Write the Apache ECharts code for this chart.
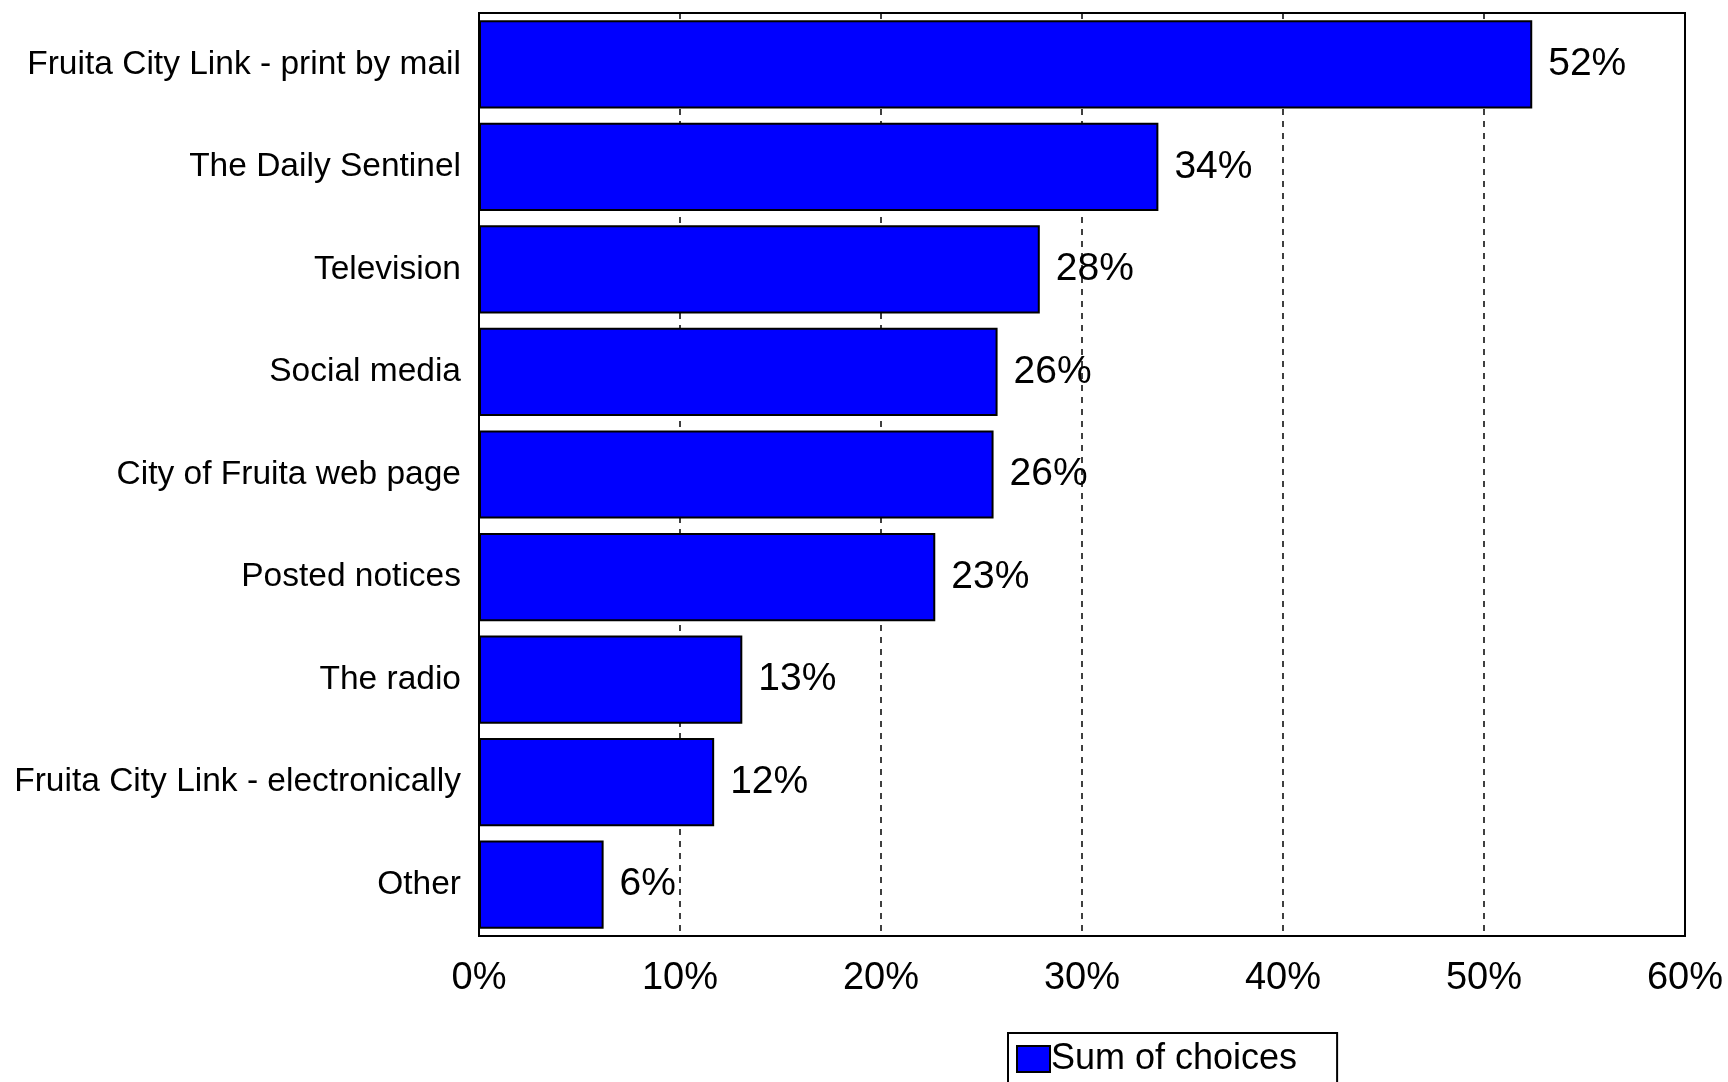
<!DOCTYPE html>
<html>
<head>
<meta charset="utf-8">
<script src="https://cdn.jsdelivr.net/npm/echarts@6/dist/echarts.min.js"></script>
<style>
html,body{margin:0;padding:0;background:#fff;}
#chart{width:1728px;height:1082px;}
</style>
</head>
<body>
<div id="chart"></div>
<script>
const categories = [
  "Fruita City Link - print by mail",
  "The Daily Sentinel",
  "Television",
  "Social media",
  "City of Fruita web page",
  "Posted notices",
  "The radio",
  "Fruita City Link - electronically",
  "Other"
];
const values = [52.4, 33.8, 27.9, 25.8, 25.6, 22.7, 13.1, 11.7, 6.2];
const valueLabels = ["52%", "34%", "28%", "26%", "26%", "23%", "13%", "12%", "6%"];
const seriesName = "Sum of choices";

const chart = echarts.init(document.getElementById('chart'), null, {renderer: 'canvas'});
chart.setOption({
  backgroundColor: '#ffffff',
  animation: false,
  grid: {
    left: 479, right: 43, top: 13, bottom: 146,
    show: true, borderColor: '#000', borderWidth: 2, backgroundColor: 'transparent'
  },
  legend: {
    data: [seriesName],
    left: 1008, top: 1033,
    orient: 'horizontal',
    icon: 'rect',
    itemWidth: 33, itemHeight: 26, itemGap: 0,
    padding: [8, 40, 30, 8],
    borderColor: '#000', borderWidth: 2,
    textStyle: {fontFamily: 'Liberation Sans', fontSize: 36, color: '#000', padding: [0,0,0,-4]}
  },
  xAxis: {
    type: 'value',
    min: 0, max: 60, interval: 10,
    axisLine: {show: true, lineStyle: {color: '#000', width: 2}},
    axisTick: {show: false},
    splitLine: {show: true, lineStyle: {color: '#000', type: [6, 6], width: 1.5}},
    axisLabel: {
      fontFamily: 'Liberation Sans Narrow, Liberation Sans', fontSize: 38, color: '#000', margin: 24,
      formatter: v => v + '%'
    }
  },
  yAxis: {
    type: 'category',
    data: categories,
    inverse: true,
    axisLine: {show: true, lineStyle: {color: '#000', width: 2}},
    axisTick: {show: false},
    axisLabel: {fontFamily: 'Liberation Sans', fontSize: 33.5, color: '#000', margin: 18}
  },
  series: [{
    name: seriesName,
    type: 'bar',
    data: values,
    barCategoryGap: '14%',
    itemStyle: {color: '#0000ff', borderColor: '#000', borderWidth: 2},
    label: {
      show: true, position: 'right', distance: 16,
      fontFamily: 'Liberation Sans', fontSize: 39, color: '#000',
      formatter: p => valueLabels[p.dataIndex]
    }
  }]
});
</script>
</body>
</html>
